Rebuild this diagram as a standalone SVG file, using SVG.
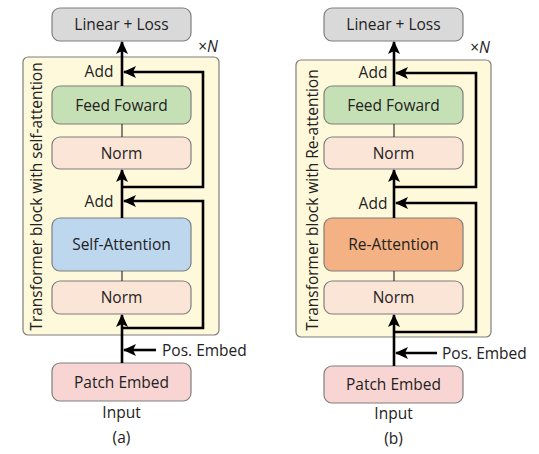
<svg xmlns="http://www.w3.org/2000/svg" width="539" height="454" viewBox="0 0 539 454">
<defs>
<marker id="ah" markerUnits="userSpaceOnUse" markerWidth="14" markerHeight="14" viewBox="0 0 14 14" refX="12" refY="7" orient="auto">
<path d="M0,1 L13,7 L0,13 L3,7 Z" fill="#000"/>
</marker>
</defs>
<style>
.box{stroke:#7f7f7f;stroke-width:1.2}
.blk{fill:#fff9db;stroke:#7f7f7f;stroke-width:1.2}
.t{font-family:"Open Sans","Liberation Sans",sans-serif;font-size:15.5px;fill:#222;text-anchor:middle}
.l{font-family:"Open Sans","Liberation Sans",sans-serif;font-size:15.5px;fill:#222}
.thick{fill:none;stroke:#000;stroke-width:2.6}
.thin{fill:none;stroke:#333;stroke-width:1.2}
</style>
<rect fill="#fff" width="539" height="454"/>

<!-- Panel (a) -->
<g id="block-a"><rect class="blk" x="23" y="57" width="196" height="278" rx="5"/>
<text class="l" transform="translate(42,196.5) rotate(-90)" text-anchor="middle">Transformer block with self-attention</text></g>
<g id="xn-a"><text class="l" x="218" y="52" text-anchor="end">×<tspan font-style="italic">N</tspan></text></g>
<g id="linear-a"><rect class="box" fill="#d9d9d9" x="52" y="8" width="139" height="33" rx="8"/><text class="t" x="121.5" y="30">Linear + Loss</text></g>
<g id="ff-a"><rect class="box" fill="#c5e0b4" x="52" y="86" width="139" height="38" rx="8"/><text class="t" x="121.5" y="110.5">Feed Foward</text></g>
<g id="norm1-a"><rect class="box" fill="#fbe5d6" x="52" y="137" width="139" height="32" rx="8"/><text class="t" x="121.5" y="158.5">Norm</text></g>
<g id="sa-a"><rect class="box" fill="#bdd7ee" x="52" y="218" width="139" height="53" rx="8"/><text class="t" x="121.5" y="250">Self-Attention</text></g>
<g id="norm2-a"><rect class="box" fill="#fbe5d6" x="52" y="281" width="139" height="33" rx="8"/><text class="t" x="121.5" y="303">Norm</text></g>
<g id="patch-a"><rect class="box" fill="#f8d5d2" x="52" y="363" width="139" height="38" rx="8"/><text class="t" x="121.5" y="387.5">Patch Embed</text></g>
<g id="labels-a">
<text class="t" x="99" y="77">Add</text>
<text class="t" x="99" y="207">Add</text>
<text class="l" x="162" y="356">Pos. Embed</text>
<text class="t" x="121.5" y="418">Input</text>
<text class="t" x="121.5" y="443">(a)</text>
</g>

<!-- Panel (b) -->
<g id="block-b"><rect class="blk" x="296" y="60" width="195" height="277" rx="5"/>
<text class="l" transform="translate(318,200) rotate(-90)" text-anchor="middle">Transformer block with Re-attention</text></g>
<g id="xn-b"><text class="l" x="490" y="53" text-anchor="end">×<tspan font-style="italic">N</tspan></text></g>
<g id="linear-b"><rect class="box" fill="#d9d9d9" x="324" y="8" width="139" height="33" rx="8"/><text class="t" x="393.5" y="30">Linear + Loss</text></g>
<g id="ff-b"><rect class="box" fill="#c5e0b4" x="324" y="86" width="139" height="38" rx="8"/><text class="t" x="393.5" y="110.5">Feed Foward</text></g>
<g id="norm1-b"><rect class="box" fill="#fbe5d6" x="324" y="137" width="139" height="32" rx="8"/><text class="t" x="393.5" y="158.5">Norm</text></g>
<g id="ra-b"><rect class="box" fill="#f4b183" x="324" y="218" width="139" height="53" rx="8"/><text class="t" x="393.5" y="250">Re-Attention</text></g>
<g id="norm2-b"><rect class="box" fill="#fbe5d6" x="324" y="281" width="139" height="33" rx="8"/><text class="t" x="393.5" y="303">Norm</text></g>
<g id="patch-b"><rect class="box" fill="#f8d5d2" x="324" y="366" width="139" height="37" rx="8"/><text class="t" x="393.5" y="390">Patch Embed</text></g>
<g id="labels-b">
<text class="t" x="373" y="78">Add</text>
<text class="t" x="373" y="209">Add</text>
<text class="l" x="442" y="359">Pos. Embed</text>
<text class="t" x="393.5" y="419">Input</text>
<text class="t" x="393.5" y="444">(b)</text>
</g>

<g id="connectors">
<!-- a -->
<line class="thick" x1="122" y1="86" x2="122" y2="42" marker-end="url(#ah)"/>
<line class="thin" x1="122" y1="124" x2="122" y2="137"/>
<line class="thick" x1="122" y1="218" x2="122" y2="170" marker-end="url(#ah)"/>
<line class="thin" x1="122" y1="271" x2="122" y2="281"/>
<line class="thick" x1="122" y1="363" x2="122" y2="315" marker-end="url(#ah)"/>
<polyline class="thick" points="122,187 203,187 203,72 124,72" marker-end="url(#ah)"/>
<polyline class="thick" points="122,328 203,328 203,201 124,201" marker-end="url(#ah)"/>
<line class="thick" x1="156" y1="350" x2="124" y2="350" marker-end="url(#ah)"/>
<!-- b -->
<line class="thick" x1="394" y1="86" x2="394" y2="42" marker-end="url(#ah)"/>
<line class="thin" x1="394" y1="124" x2="394" y2="137"/>
<line class="thick" x1="394" y1="218" x2="394" y2="170" marker-end="url(#ah)"/>
<line class="thin" x1="394" y1="271" x2="394" y2="281"/>
<line class="thick" x1="394" y1="366" x2="394" y2="315" marker-end="url(#ah)"/>
<polyline class="thick" points="394,187 476,187 476,73 396,73" marker-end="url(#ah)"/>
<polyline class="thick" points="394,332 476,332 476,203 396,203" marker-end="url(#ah)"/>
<line class="thick" x1="437" y1="353" x2="396" y2="353" marker-end="url(#ah)"/>
</g>
</svg>
